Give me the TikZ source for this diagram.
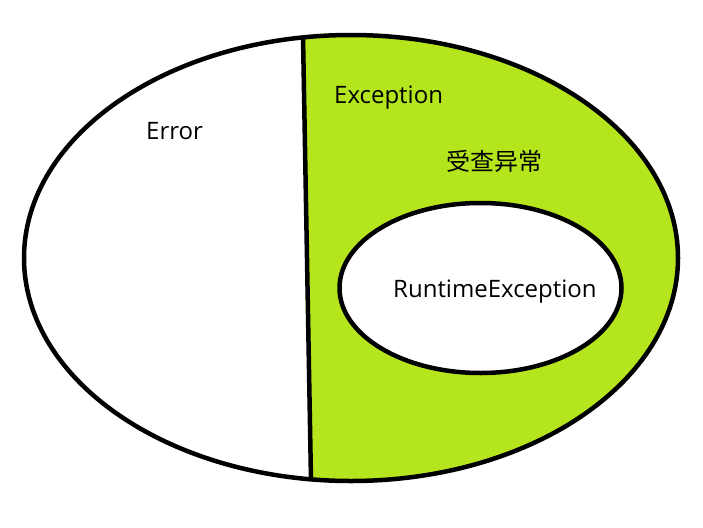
\documentclass[tikz,border=0pt]{standalone}
\usepackage{fontspec}
\setmainfont{Open Sans}
\newfontfamily\cjk{Noto Sans CJK SC}
\definecolor{lime}{HTML}{B5E61D}
\begin{document}
\begin{tikzpicture}[x=1pt,y=-1pt,
  lbl/.style={inner sep=0pt,anchor=base west,font=\fontsize{24}{28}\selectfont},
  edge/.style={line width=4.5pt}]
\useasboundingbox (0,0) rectangle (703,527);
\begin{scope}
  \clip (302.3,0) -- (703,0) -- (703,527) -- (311.9,527) -- cycle;
  \fill[lime] (351,258) ellipse [x radius=327, y radius=223];
\end{scope}
\draw[edge] (351,258) ellipse [x radius=327, y radius=223];
\coordinate (t) at (303,36);
\coordinate (b) at (311,481);
\draw[edge] (t) -- (b);
\draw[edge,fill=white] (480.5,288) ellipse [x radius=141, y radius=85];
\node[lbl] (err) at (146,139) {Error};
\node[lbl] (exc) at (334,103) {Exception};
\node[lbl] (chk) at (446,170.5) {\cjk 受查异常};
\node[lbl] (rte) at (393,297) {RuntimeException};
\end{tikzpicture}
\end{document}
